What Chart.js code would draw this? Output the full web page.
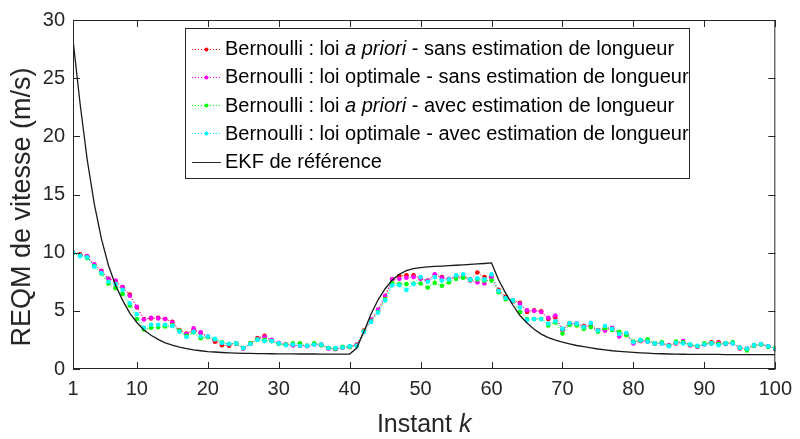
<!DOCTYPE html>
<html>
<head>
<meta charset="utf-8">
<title>REQM de vitesse</title>
<script src="https://cdn.jsdelivr.net/npm/chart.js@4.4.1/dist/chart.umd.min.js"></script>
<style>
  body { margin: 0; background: #fff; }
  canvas { display: block; }
</style>
</head>
<body>
<canvas id="reqm" width="800" height="439"></canvas>
<script>
// instants 1..100
const instants = Array.from({ length: 100 }, (_, i) => i + 1);
const xTicks = [1, 10, 20, 30, 40, 50, 60, 70, 80, 90, 100];

// Bernoulli : loi a priori - sans estimation de longueur
const aprioriSans = [
  10.0, 9.85, 9.7, 8.95, 8.45, 7.75, 7.55, 7.0, 6.4, 5.3,
  4.3, 4.35, 4.4, 4.3, 4.05, 3.35, 3.05, 3.3, 3.1, 2.75,
  2.35, 2.05, 2.0, 2.15, 1.8, 2.2, 2.65, 2.85, 2.45, 2.2,
  2.1, 2.05, 2.0, 2.0, 2.15, 2.1, 1.8, 1.75, 1.85, 1.9,
  2.1, 3.3, 4.2, 5.0, 6.2, 7.7, 8.0, 8.05, 8.05, 7.8,
  7.6, 8.1, 7.9, 7.7, 7.95, 8.0, 7.7, 8.3, 7.9, 7.9,
  6.8, 6.2, 5.9, 5.7, 4.9, 5.05, 4.95, 4.3, 4.4, 3.4,
  3.95, 3.85, 3.7, 3.7, 3.35, 3.55, 3.5, 3.1, 3.0, 2.3,
  2.45, 2.4, 2.2, 2.25, 2.0, 2.2, 2.3, 2.05, 1.95, 2.15,
  2.3, 2.3, 2.2, 2.25, 1.85, 1.7, 2.05, 2.15, 1.95, 1.7
];
// Bernoulli : loi optimale - sans estimation de longueur
const optimaleSans = [
  10.0, 9.8, 9.7, 9.0, 8.4, 7.75, 7.6, 7.05, 6.3, 5.35,
  4.25, 4.4, 4.35, 4.3, 4.0, 3.3, 3.0, 3.5, 3.15, 2.8,
  2.5, 2.25, 2.15, 2.2, 1.75, 2.15, 2.6, 2.75, 2.5, 2.25,
  2.1, 2.05, 2.0, 1.95, 2.1, 2.05, 1.75, 1.7, 1.85, 1.9,
  2.05, 3.2, 4.25, 5.1, 6.3, 7.7, 7.75, 7.85, 7.9, 7.75,
  7.55, 8.15, 7.85, 7.75, 7.85, 7.9, 7.6, 7.45, 7.35, 7.9,
  6.7, 6.1, 5.8, 5.6, 5.05, 5.0, 4.9, 4.4, 4.6, 3.3,
  3.9, 3.9, 3.6, 3.75, 3.3, 3.3, 3.55, 2.8, 3.0, 2.2,
  2.4, 2.35, 2.2, 2.2, 2.05, 2.25, 2.4, 2.05, 1.9, 2.1,
  2.2, 2.2, 2.15, 2.2, 1.75, 1.75, 2.0, 2.1, 1.95, 1.75
];
// Bernoulli : loi a priori - avec estimation de longueur
const aprioriAvec = [
  10.0, 9.75, 9.55, 8.85, 8.2, 7.35, 6.95, 6.45, 5.45, 4.3,
  3.4, 3.55, 3.6, 3.65, 3.75, 3.3, 2.85, 3.15, 2.65, 2.75,
  2.55, 2.3, 2.15, 2.2, 1.8, 2.2, 2.55, 2.5, 2.4, 2.15,
  2.1, 2.2, 2.2, 2.0, 2.2, 2.05, 1.8, 1.75, 1.9, 1.9,
  2.0, 3.25, 4.1, 4.9, 6.0, 7.4, 7.3, 7.3, 7.35, 7.35,
  7.0, 7.4, 7.15, 7.45, 7.75, 7.85, 7.65, 7.7, 7.6, 7.6,
  6.6, 6.0, 5.85, 4.9, 4.3, 4.3, 4.3, 3.75, 4.0, 3.05,
  3.8, 3.75, 3.45, 3.6, 3.2, 3.5, 3.35, 3.2, 2.9, 2.35,
  2.45, 2.55, 2.2, 2.3, 2.0, 2.35, 2.3, 2.1, 1.95, 2.2,
  2.2, 2.15, 2.2, 2.3, 1.8, 1.6, 2.0, 2.1, 1.9, 1.8
];
// Bernoulli : loi optimale - avec estimation de longueur
const optimaleAvec = [
  10.0, 9.7, 9.6, 8.8, 8.25, 7.5, 7.3, 6.8, 5.65, 4.7,
  3.55, 3.8, 3.8, 3.8, 3.7, 3.2, 2.75, 3.2, 2.8, 2.8,
  2.6, 2.25, 2.15, 2.2, 1.8, 2.15, 2.5, 2.4, 2.4, 2.2,
  2.05, 2.1, 2.0, 2.0, 2.1, 2.1, 1.8, 1.8, 1.85, 1.95,
  2.0, 3.2, 4.05, 4.85, 5.9, 7.2, 7.2, 6.8, 7.3, 7.9,
  7.5, 7.9, 7.6, 7.7, 8.05, 8.15, 7.7, 7.8, 7.7, 8.15,
  6.7, 6.1, 5.9, 5.3, 4.2, 4.3, 4.3, 3.9, 4.1, 3.45,
  3.95, 3.9, 3.6, 3.95, 3.3, 3.7, 3.45, 3.0, 3.1, 2.3,
  2.5, 2.35, 2.2, 2.2, 1.95, 2.25, 2.2, 2.1, 2.0, 2.1,
  2.2, 2.05, 2.2, 2.2, 1.85, 1.75, 2.05, 2.15, 1.95, 1.75
];
// EKF de référence
const ekf = [
  28.3, 22.8, 18.0, 14.2, 11.2, 8.9, 7.2, 5.9, 4.8, 4.0,
  3.35, 2.9, 2.55, 2.25, 2.05, 1.88, 1.75, 1.65, 1.57, 1.5,
  1.46, 1.42, 1.39, 1.37, 1.35, 1.34, 1.33, 1.32, 1.31, 1.3,
  1.3, 1.3, 1.29, 1.29, 1.29, 1.28, 1.28, 1.28, 1.28, 1.28,
  1.8, 3.2, 4.7, 5.95, 6.9, 7.65, 8.15, 8.45, 8.62, 8.72,
  8.78, 8.82, 8.85, 8.88, 8.92, 8.95, 8.99, 9.03, 9.07, 9.12,
  7.65, 6.5, 5.5, 4.6, 3.95, 3.42, 3.0, 2.7, 2.48, 2.3,
  2.15, 2.02, 1.92, 1.82, 1.72, 1.64, 1.57, 1.52, 1.47, 1.43,
  1.39, 1.36, 1.33, 1.31, 1.29, 1.28, 1.27, 1.26, 1.26, 1.25,
  1.25, 1.25, 1.24, 1.24, 1.24, 1.24, 1.23, 1.23, 1.23, 1.23
];

const FONT = '"Liberation Sans", Arial, Helvetica, sans-serif';
const AXIS_COLOR = '#262626';

function pts(values) {
  return values.map((v, i) => ({ x: instants[i], y: v }));
}

function bernoulli(label, values, color, order) {
  return {
    label: label,
    data: pts(values),
    borderColor: color,
    backgroundColor: color,
    borderWidth: 1,
    borderDash: [1, 2],
    pointRadius: 2.3,
    pointBorderWidth: 0,
    pointBackgroundColor: color,
    tension: 0,
    order: order
  };
}

const legendRows = [
  { color: '#ff0000', dotted: true, parts: [['Bernoulli : loi ', false], ['a priori', true], [' - sans estimation de longueur', false]] },
  { color: '#ff00ff', dotted: true, parts: [['Bernoulli : loi optimale - sans estimation de longueur', false]] },
  { color: '#00ff00', dotted: true, parts: [['Bernoulli : loi ', false], ['a priori', true], [' - avec estimation de longueur', false]] },
  { color: '#00ffff', dotted: true, parts: [['Bernoulli : loi optimale - avec estimation de longueur', false]] },
  { color: '#262626', dotted: false, parts: [['EKF de référence', false]] }
];

// box, inward ticks on all four sides, axis titles and legend
const decorations = {
  id: 'decorations',
  afterDatasetsDraw(chart) {
    const { ctx, chartArea: a, scales: { x, y } } = chart;
    ctx.save();
    ctx.strokeStyle = AXIS_COLOR;
    ctx.lineWidth = 1;
    ctx.strokeRect(a.left + 0.5, a.top + 0.5, a.right - a.left - 1, a.bottom - a.top - 1);
    const len = 7;
    ctx.beginPath();
    x.ticks.forEach(t => {
      const px = Math.round(x.getPixelForValue(t.value)) + 0.5;
      ctx.moveTo(px, a.bottom); ctx.lineTo(px, a.bottom - len);
      ctx.moveTo(px, a.top); ctx.lineTo(px, a.top + len);
    });
    y.ticks.forEach(t => {
      const py = Math.round(y.getPixelForValue(t.value)) + 0.5;
      ctx.moveTo(a.left, py); ctx.lineTo(a.left + len, py);
      ctx.moveTo(a.right, py); ctx.lineTo(a.right - len, py);
    });
    ctx.stroke();

    // axis titles
    ctx.fillStyle = AXIS_COLOR;
    ctx.textBaseline = 'middle';
    ctx.font = '25px ' + FONT;
    const w1 = ctx.measureText('Instant ').width;
    ctx.font = 'italic 25px ' + FONT;
    const w2 = ctx.measureText('k').width;
    let tx = (a.left + a.right) / 2 - (w1 + w2) / 2;
    ctx.textAlign = 'left';
    ctx.font = '25px ' + FONT;
    ctx.fillText('Instant ', tx, 425);
    ctx.font = 'italic 25px ' + FONT;
    ctx.fillText('k', tx + w1, 425);

    ctx.save();
    ctx.translate(23, 207);
    ctx.rotate(-Math.PI / 2);
    ctx.textAlign = 'center';
    ctx.font = '27px ' + FONT;
    ctx.fillText('REQM de vitesse (m/s)', 0, 0);
    ctx.restore();
    ctx.restore();
  },
  afterDraw(chart) {
    const { ctx } = chart;
    const box = { left: 185, top: 28, right: 690, bottom: 179 };
    ctx.save();
    ctx.fillStyle = '#fff';
    ctx.fillRect(box.left, box.top, box.right - box.left, box.bottom - box.top);
    ctx.strokeStyle = AXIS_COLOR;
    ctx.lineWidth = 1;
    ctx.strokeRect(box.left + 0.5, box.top + 0.5, box.right - box.left - 1, box.bottom - box.top - 1);
    ctx.textBaseline = 'middle';
    ctx.textAlign = 'left';
    legendRows.forEach((row, i) => {
      const cy = 48.5 + i * 28.3;
      ctx.strokeStyle = row.color;
      ctx.lineWidth = 1;
      ctx.setLineDash(row.dotted ? [1, 2] : []);
      ctx.beginPath();
      ctx.moveTo(192, Math.round(cy) + 0.5);
      ctx.lineTo(221, Math.round(cy) + 0.5);
      ctx.stroke();
      ctx.setLineDash([]);
      if (row.dotted) {
        ctx.fillStyle = row.color;
        ctx.beginPath();
        ctx.arc(206.5, Math.round(cy) + 0.5, 2, 0, Math.PI * 2);
        ctx.fill();
      }
      let tx = 225;
      ctx.fillStyle = '#000';
      row.parts.forEach(([txt, italic]) => {
        ctx.font = (italic ? 'italic ' : '') + '20px ' + FONT;
        ctx.fillText(txt, tx, cy + 1);
        tx += ctx.measureText(txt).width;
      });
    });
    ctx.restore();
  }
};

new Chart(document.getElementById('reqm'), {
  type: 'line',
  data: {
    datasets: [
      bernoulli('Bernoulli : loi a priori - sans estimation de longueur', aprioriSans, '#ff0000', 5),
      bernoulli('Bernoulli : loi optimale - sans estimation de longueur', optimaleSans, '#ff00ff', 4),
      bernoulli('Bernoulli : loi a priori - avec estimation de longueur', aprioriAvec, '#00ff00', 3),
      bernoulli('Bernoulli : loi optimale - avec estimation de longueur', optimaleAvec, '#00ffff', 2),
      {
        label: 'EKF de référence',
        data: pts(ekf),
        borderColor: '#1a1a1a',
        borderWidth: 1.3,
        pointRadius: 0,
        tension: 0,
        order: 1
      }
    ]
  },
  options: {
    responsive: false,
    animation: false,
    devicePixelRatio: 1,
    layout: { padding: { left: 0, right: 23, top: 17, bottom: 0 } },
    plugins: {
      legend: { display: false },
      tooltip: { enabled: false }
    },
    scales: {
      x: {
        type: 'linear',
        min: 1,
        max: 100,
        afterBuildTicks: scale => { scale.ticks = xTicks.map(v => ({ value: v })); },
        afterFit: scale => { scale.height = 70; },
        grid: { display: false, drawTicks: false },
        border: { display: false },
        ticks: {
          padding: 8,
          maxRotation: 0,
          autoSkip: false,
          color: AXIS_COLOR,
          font: { family: FONT, size: 20 }
        }
      },
      y: {
        min: 0,
        max: 30,
        afterFit: scale => { scale.width = 73; },
        grid: { display: false, drawTicks: false },
        border: { display: false },
        ticks: {
          stepSize: 5,
          padding: 8,
          color: AXIS_COLOR,
          font: { family: FONT, size: 20 }
        }
      }
    }
  },
  plugins: [decorations]
});
</script>
</body>
</html>
